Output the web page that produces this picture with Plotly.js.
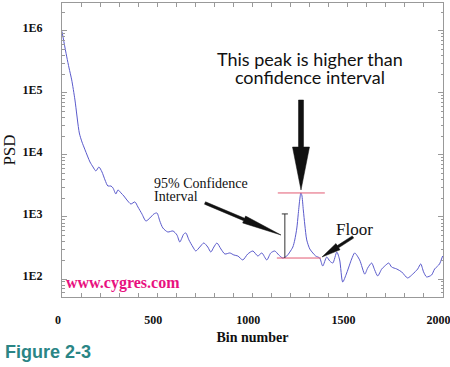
<!DOCTYPE html>
<html><head><meta charset="utf-8">
<script src="https://cdn.plot.ly/plotly-3.0.1.min.js"></script>
<style>html,body{margin:0;padding:0;background:#fff}#chart{width:450px;height:367px}</style>
</head><body><div id="chart"></div>
<script>
// Bin number
const bins = [0,10,25,37,51,68,91,105,121,147,163,178,194,210,226,241,257,268,283,294,
  310,325,341,362,383,399,420,441,462,483,499,514,530,556,583,604,619,640,651,667,
  688,703,724,745,766,782,798,814,835,856,882,903,924,950,976,1003,1029,1050,1076,1097,
  1118,1139,1160,1181,1197,1213,1223,1234,1241,1249,1255,1260,1268,1276,1286,1302,1318,1333,1354,1370,
  1391,1407,1423,1444,1459,1475,1496,1522,1538,1564,1591,1606,1627,1643,1659,1680,1696,1717,1732,1759,
  1785,1816,1843,1869,1885,1900,1916,1942,1958,1974,1984,2000];
// PSD values
const psd = [980000,665000,381000,253000,162000,77100,22600,16200,12100,7710,6400,5520,6400,5320,3950,3160,3160,2940,2350,2730,
  2440,2180,1880,1620,1750,1450,1120,861,964,1120,1160,861,665,573,595,513,395,532,552,426,
  328,283,328,381,328,272,328,381,305,253,263,244,235,203,253,283,235,263,203,263,
  283,244,218,235,272,328,426,665,1080,1880,2440,2260,1300,743,426,305,263,235,218,162,
  226,195,181,272,203,89.5,125,210,263,203,120,150,181,140,112,145,162,181,156,145,
  130,104,120,145,175,130,108,116,145,162,175,235];

// Reference lines: confidence interval
const peakLineX = [1134, 1381];
const peakLineY = [2440, 2440];
const floorLineX = [1129, 1360];
const floorLineY = [218, 218];
const ciBarX = [1171, 1171];
const ciBarY = [218, 1120];
const ciCapX = [1155, 1187];
const ciCapY = [1120, 1120];

const xTickVals = [0, 500, 1000, 1500, 2000];
const xTickText = ['0', '500', '1000', '1500', '2000'];
const yTickVals = [100, 1000, 10000, 100000, 1000000];
const yTickText = ['1E2', '1E3', '1E4', '1E5', '1E6'];

const W = 450, H = 367;
const M = {l: 62, r: 7, t: 3, b: 70};
const pw = W - M.l - M.r, ph = H - M.t - M.b;
function px2x(x) { return (x - M.l) / pw; }
function px2y(y) { return (H - M.b - y) / ph; }
function arrow(x0, y0, x1, y1, sw, hw, hl) {
  const dx = x1 - x0, dy = y1 - y0, L = Math.hypot(dx, dy);
  const ux = dx / L, uy = dy / L, nx = -uy, ny = ux;
  const bx = x1 - ux * hl, by = y1 - uy * hl;
  const pts = [
    [x0 + nx * sw / 2, y0 + ny * sw / 2],
    [bx + nx * sw / 2, by + ny * sw / 2],
    [bx + nx * hw / 2, by + ny * hw / 2],
    [x1, y1],
    [bx - nx * hw / 2, by - ny * hw / 2],
    [bx - nx * sw / 2, by - ny * sw / 2],
    [x0 - nx * sw / 2, y0 - ny * sw / 2]
  ];
  return 'M' + pts.map(p => px2x(p[0]).toFixed(4) + ',' + px2y(p[1]).toFixed(4)).join(' L') + ' Z';
}

const axisColor = '#999999';
const serif = 'Liberation Serif, Times New Roman, serif';

const traces = [
  {x: bins, y: psd, type: 'scatter', mode: 'lines',
   line: {color: '#5a5acc', width: 1, shape: 'spline', smoothing: 0.7}, hoverinfo: 'x+y'},
  {x: peakLineX, y: peakLineY, type: 'scatter', mode: 'lines', line: {color: '#e25a72', width: 1}},
  {x: floorLineX, y: floorLineY, type: 'scatter', mode: 'lines', line: {color: '#e25a72', width: 1}},
  {x: ciBarX, y: ciBarY, type: 'scatter', mode: 'lines', line: {color: '#333', width: 1}},
  {x: ciCapX, y: ciCapY, type: 'scatter', mode: 'lines', line: {color: '#333', width: 1}}
];

const layout = {
  width: W, height: H,
  margin: M,
  showlegend: false,
  paper_bgcolor: '#fff', plot_bgcolor: '#fff',
  xaxis: {
    range: [0, 2002], showgrid: false, zeroline: false,
    showline: true, linecolor: axisColor, linewidth: 1, mirror: 'ticks',
    ticks: 'inside', ticklen: 4, tickcolor: axisColor,
    tickmode: 'array', tickvals: xTickVals, ticktext: xTickText,
    ticklabelstandoff: 12, ticklabelshift: -4, ticklabeloverflow: 'allow',
    tickfont: {family: serif, size: 12, color: '#111', weight: 'bold'},
    minor: {dtick: 100, tick0: 0, ticks: 'inside', ticklen: 4, tickcolor: axisColor, showgrid: false},
    title: {text: 'Bin number', font: {family: serif, size: 14, color: '#111', weight: 'bold'}, standoff: 5}
  },
  yaxis: {
    type: 'log', range: [1.71, 6.45], showgrid: false, zeroline: false,
    showline: true, linecolor: axisColor, linewidth: 1, mirror: 'ticks',
    ticks: 'inside', ticklen: 5, tickcolor: axisColor,
    tickmode: 'array', tickvals: yTickVals, ticktext: yTickText,
    ticklabelstandoff: 16, ticklabelshift: -3,
    tickfont: {family: serif, size: 12, color: '#111', weight: 'bold'},
    minor: {dtick: 'D1', ticks: 'inside', ticklen: 2.5, tickcolor: axisColor, showgrid: false},
    title: {text: 'PSD', font: {family: serif, size: 17, color: '#111'}, standoff: 6}
  },
  shapes: [
    {type: 'path', xref: 'paper', yref: 'paper', path: arrow(301, 100, 301, 190, 5, 17, 43),
     fillcolor: '#111', line: {color: '#111', width: 0.5}},
    {type: 'path', xref: 'paper', yref: 'paper', path: arrow(205, 203, 281, 235, 2.6, 7.5, 40),
     fillcolor: '#111', line: {color: '#111', width: 0.5}},
    {type: 'path', xref: 'paper', yref: 'paper', path: arrow(353, 237, 322, 257, 2.6, 7.5, 19),
     fillcolor: '#111', line: {color: '#111', width: 0.5}}
  ],
  annotations: [
    {xref: 'paper', yref: 'paper', x: px2x(310), y: px2y(68),
     text: '<span style="font-size:18px">This peak is higher than</span><br><span style="font-size:18px">confidence interval</span>',
     showarrow: false, xanchor: 'center', yanchor: 'middle', align: 'center', borderpad: 0,
     font: {family: 'Lato, sans-serif', size: 14, color: '#111'}},
    {xref: 'paper', yref: 'paper', x: px2x(153), y: px2y(190),
     text: '<span style="font-size:14px">95% Confidence</span><br><span style="font-size:14px">Interval</span>',
     showarrow: false, xanchor: 'left', yanchor: 'middle', align: 'left', borderpad: 0,
     font: {family: serif, size: 9.8, color: '#111'}},
    {xref: 'paper', yref: 'paper', x: px2x(354), y: px2y(229), text: 'Floor',
     showarrow: false, xanchor: 'center', yanchor: 'middle', font: {family: serif, size: 17, color: '#111'}},
    {xref: 'paper', yref: 'paper', x: px2x(64), y: px2y(283), text: 'www.cygres.com',
     showarrow: false, xanchor: 'left', yanchor: 'middle', font: {family: serif, size: 16, color: '#e8117f', weight: 'bold'}},
    {xref: 'paper', yref: 'paper', x: px2x(3), y: px2y(352), text: 'Figure 2-3',
     showarrow: false, xanchor: 'left', yanchor: 'middle', font: {family: 'Liberation Sans, Arial, sans-serif', size: 18, color: '#2a8585', weight: 'bold'}}
  ]
};

Plotly.newPlot('chart', traces, layout, {displayModeBar: false, staticPlot: true});
</script></body></html>
